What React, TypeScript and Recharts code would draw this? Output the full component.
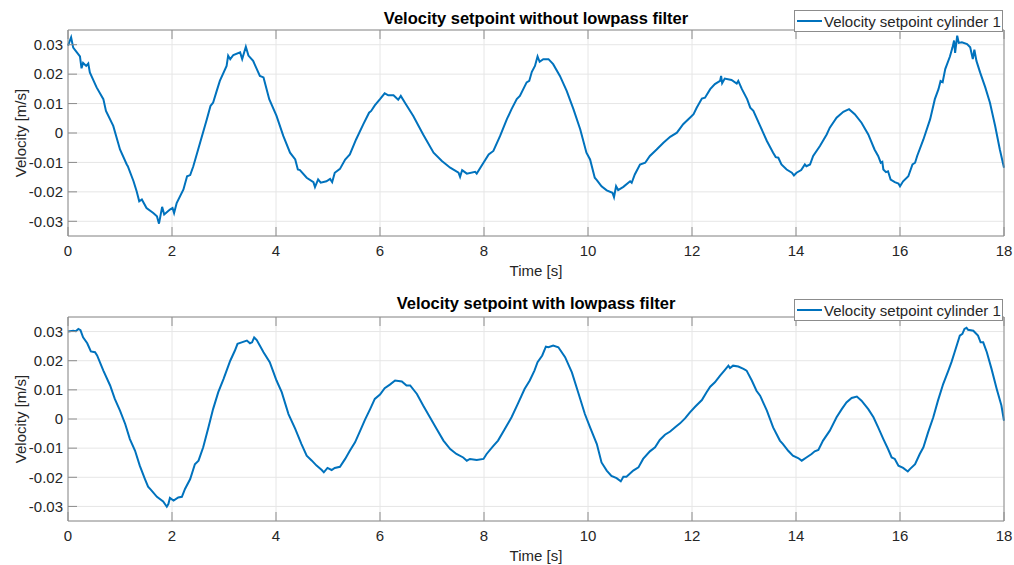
import React from 'react';
import { LineChart, Line, XAxis, YAxis, CartesianGrid } from 'recharts';

const xTicks = [0, 2, 4, 6, 8, 10, 12, 14, 16, 18];
const yTicks = [-0.03, -0.02, -0.01, 0, 0.01, 0.02, 0.03];
const titles = ['Velocity setpoint without lowpass filter', 'Velocity setpoint with lowpass filter'];
const legendLabel = 'Velocity setpoint cylinder 1';
const xLabel = 'Time [s]';
const yLabel = 'Velocity [m/s]';

const rawTime = [0,0.06,0.1,0.23,0.26,0.29,0.35,0.39,0.42,0.55,0.68,0.73,0.87,1.0,1.13,1.15,1.26,1.32,1.37,1.42,1.51,1.64,1.71,1.75,1.81,1.85,1.96,2.01,2.04,2.09,2.22,2.29,2.35,2.41,2.54,2.67,2.74,2.79,2.86,2.92,3.05,3.08,3.12,3.18,3.31,3.35,3.42,3.47,3.56,3.69,3.76,3.87,4.01,4.14,4.27,4.37,4.42,4.46,4.59,4.72,4.75,4.81,4.86,4.97,5.04,5.08,5.13,5.23,5.33,5.42,5.54,5.68,5.79,5.83,5.9,6.0,6.09,6.16,6.26,6.35,6.4,6.48,6.64,6.83,7.03,7.19,7.35,7.51,7.54,7.58,7.67,7.83,7.86,7.99,8.09,8.18,8.31,8.44,8.53,8.63,8.69,8.82,8.87,8.92,8.98,9.03,9.07,9.14,9.24,9.33,9.46,9.59,9.72,9.85,9.97,10.04,10.13,10.17,10.26,10.36,10.47,10.5,10.54,10.58,10.68,10.81,10.84,10.9,11.0,11.1,11.19,11.32,11.45,11.58,11.71,11.83,11.96,12.03,12.09,12.19,12.25,12.35,12.44,12.54,12.56,12.58,12.63,12.76,12.86,12.89,12.96,13.06,13.12,13.18,13.31,13.44,13.56,13.61,13.66,13.72,13.82,13.92,13.96,14.01,14.1,14.17,14.2,14.27,14.33,14.46,14.59,14.65,14.78,14.91,15.02,15.13,15.26,15.39,15.51,15.58,15.63,15.66,15.68,15.73,15.77,15.82,15.9,15.97,16.0,16.06,16.16,16.24,16.29,16.33,16.45,16.58,16.67,16.74,16.78,16.82,16.87,16.96,17.01,17.04,17.06,17.1,17.13,17.19,17.29,17.35,17.4,17.43,17.47,17.54,17.64,17.73,17.83,17.92,18.0];
const rawVelocity = [0.0297,0.0325,0.029,0.026,0.022,0.0238,0.0228,0.0236,0.0206,0.0155,0.0115,0.0075,0.0024,-0.0056,-0.0107,-0.0113,-0.0164,-0.0198,-0.0232,-0.0226,-0.0255,-0.0272,-0.0283,-0.0308,-0.0251,-0.0277,-0.026,-0.0255,-0.0272,-0.0238,-0.0192,-0.0147,-0.0143,-0.0113,-0.0033,0.0047,0.0092,0.0103,0.0143,0.0177,0.0228,0.0263,0.0251,0.0265,0.0274,0.0251,0.0293,0.0263,0.0245,0.0194,0.0189,0.0115,0.0058,-0.001,-0.0067,-0.009,-0.0124,-0.0126,-0.0152,-0.0167,-0.0184,-0.0158,-0.0169,-0.0164,-0.0156,-0.0167,-0.0135,-0.0122,-0.009,-0.0073,-0.0022,0.003,0.0069,0.0075,0.0094,0.0115,0.0135,0.0128,0.0128,0.0113,0.0126,0.0103,0.0058,-0.0005,-0.0067,-0.0095,-0.0118,-0.0135,-0.0149,-0.0126,-0.0138,-0.0132,-0.0138,-0.0101,-0.0073,-0.0061,-0.001,0.0047,0.0081,0.0115,0.0126,0.0172,0.0177,0.0208,0.0228,0.026,0.0242,0.0251,0.0251,0.0234,0.0194,0.0143,0.0081,0.0013,-0.0067,-0.009,-0.0152,-0.016,-0.0181,-0.0195,-0.0203,-0.0218,-0.0181,-0.0194,-0.0183,-0.0164,-0.0169,-0.0141,-0.0107,-0.0101,-0.0078,-0.0056,-0.0033,-0.0013,0.0001,0.003,0.0052,0.0064,0.0086,0.0117,0.012,0.0149,0.0166,0.0177,0.0194,0.0169,0.0185,0.018,0.0168,0.0177,0.0149,0.0115,0.0086,0.0075,0.0024,-0.0027,-0.0067,-0.0082,-0.0084,-0.0107,-0.0124,-0.0135,-0.0144,-0.0135,-0.0126,-0.0107,-0.0113,-0.0107,-0.0078,-0.0044,-0.0005,0.0018,0.0052,0.0072,0.0081,0.0064,0.0035,-0.0005,-0.0056,-0.0078,-0.0101,-0.0098,-0.0124,-0.0133,-0.013,-0.0158,-0.0167,-0.0172,-0.0181,-0.0164,-0.0147,-0.0107,-0.0101,-0.0078,-0.0022,0.0047,0.0115,0.0149,0.0177,0.0173,0.0217,0.026,0.0291,0.0314,0.0272,0.0331,0.0306,0.0308,0.0302,0.0291,0.0251,0.0283,0.0245,0.0206,0.0155,0.0103,0.0024,-0.0056,-0.0118];

const filteredTime = [0,0.1,0.15,0.2,0.24,0.29,0.37,0.44,0.52,0.56,0.68,0.81,0.9,1.0,1.1,1.19,1.29,1.38,1.48,1.54,1.6,1.71,1.83,1.9,1.93,1.96,2.03,2.12,2.19,2.25,2.35,2.44,2.51,2.6,2.7,2.79,2.89,2.99,3.12,3.21,3.26,3.34,3.44,3.5,3.54,3.58,3.63,3.76,3.88,4.01,4.11,4.24,4.37,4.49,4.59,4.69,4.78,4.88,4.92,4.99,5.07,5.13,5.23,5.33,5.42,5.52,5.62,5.71,5.81,5.9,6.0,6.09,6.19,6.29,6.42,6.51,6.58,6.71,6.83,6.96,7.09,7.22,7.35,7.47,7.6,7.67,7.73,7.86,7.99,8.05,8.18,8.27,8.4,8.53,8.65,8.78,8.88,8.97,9.03,9.12,9.19,9.24,9.33,9.43,9.56,9.69,9.81,9.94,10.04,10.17,10.26,10.36,10.45,10.55,10.63,10.68,10.74,10.87,10.97,11.06,11.19,11.29,11.38,11.48,11.58,11.67,11.77,11.87,11.96,12.06,12.19,12.28,12.35,12.44,12.54,12.63,12.7,12.73,12.79,12.89,12.99,13.05,13.15,13.24,13.31,13.44,13.56,13.69,13.75,13.85,13.94,14.04,14.11,14.2,14.3,14.36,14.43,14.52,14.65,14.78,14.88,14.97,15.07,15.17,15.26,15.39,15.49,15.58,15.68,15.77,15.84,15.9,15.97,16.06,16.15,16.19,16.29,16.38,16.45,16.54,16.64,16.73,16.83,16.93,16.99,17.05,17.15,17.2,17.24,17.28,17.31,17.41,17.5,17.55,17.6,17.67,17.76,17.86,17.95,18.0];
const filteredVelocity = [0.03,0.0303,0.0301,0.0309,0.0305,0.028,0.026,0.0232,0.0229,0.0218,0.0166,0.0115,0.0069,0.0029,-0.0017,-0.0069,-0.0109,-0.016,-0.0206,-0.0232,-0.0244,-0.0267,-0.0283,-0.0301,-0.0292,-0.0271,-0.028,-0.0269,-0.0267,-0.024,-0.0206,-0.0155,-0.0143,-0.0097,-0.0029,0.0034,0.0092,0.0137,0.02,0.0235,0.0258,0.0263,0.0269,0.026,0.0263,0.028,0.0271,0.0229,0.0195,0.0132,0.0092,0.0017,-0.0034,-0.0086,-0.0126,-0.0143,-0.016,-0.0175,-0.0183,-0.0168,-0.0175,-0.0168,-0.0164,-0.0137,-0.0109,-0.008,-0.004,-0.0003,0.0034,0.0069,0.0084,0.0106,0.0118,0.0132,0.0129,0.0115,0.0115,0.0086,0.0046,0.0006,-0.0034,-0.0074,-0.0103,-0.012,-0.0132,-0.0143,-0.0137,-0.0141,-0.0137,-0.012,-0.0092,-0.0074,-0.0034,0.0006,0.0052,0.0103,0.0132,0.0166,0.0195,0.0218,0.0248,0.0246,0.0252,0.0246,0.0212,0.016,0.0092,0.0017,-0.0029,-0.0086,-0.0149,-0.0177,-0.0195,-0.0203,-0.0214,-0.0198,-0.0198,-0.0177,-0.0166,-0.0137,-0.0111,-0.0097,-0.0072,-0.0054,-0.0043,-0.0029,-0.0015,0.0003,0.0023,0.0042,0.0065,0.0092,0.0111,0.0126,0.0149,0.0168,0.0183,0.0175,0.0183,0.018,0.0172,0.0166,0.0132,0.0097,0.008,0.0029,-0.0029,-0.0074,-0.0086,-0.0109,-0.0126,-0.0134,-0.0143,-0.0132,-0.012,-0.0111,-0.0106,-0.0074,-0.004,0.0006,0.0034,0.0057,0.0072,0.0077,0.0063,0.0034,0.0006,-0.0029,-0.0069,-0.0103,-0.0132,-0.0137,-0.016,-0.0168,-0.018,-0.0172,-0.0155,-0.012,-0.0097,-0.0046,0.0006,0.0063,0.012,0.0166,0.0195,0.0229,0.0286,0.0292,0.0309,0.0313,0.0306,0.0303,0.0286,0.0263,0.0263,0.0229,0.0172,0.0103,0.0046,-0.0006];

const FONT = '"Liberation Sans", Arial, Helvetica, sans-serif';
const TEXT = '#262626';
const AXIS = '#8c8c8c';
const GRID = '#e6e6e6';
const BLUE = '#0072BD';

const fmtY = (v: number) => (Math.abs(v) < 1e-9 ? '0' : v.toFixed(2));

type PanelProps = {
  title: string;
  time: number[];
  vel: number[];
  top: number;
  height: number;
  marginTop: number;
  marginBottom: number;
  titleY: number;
  legendY: number;
};

function Panel({ title, time, vel, top, height, marginTop, marginBottom, titleY, legendY }: PanelProps) {
  const data = time.map((t, i) => ({ t, v: vel[i] }));
  const tickStyle = { fill: TEXT, fontSize: 15, fontFamily: FONT };
  return (
    <div style={{ position: 'absolute', left: 0, top, width: 1014, height }}>
      <LineChart
        width={1014}
        height={height}
        data={data}
        margin={{ top: marginTop, right: 9, bottom: marginBottom, left: 8 }}
      >
        <CartesianGrid stroke={GRID} strokeWidth={1} />
        <XAxis
          dataKey="t"
          type="number"
          domain={[0, 18]}
          ticks={xTicks}
          interval={0}
          height={30}
          stroke={AXIS}
          tickSize={-9}
          tickMargin={18}
          tick={tickStyle}
          label={{
            content: (p: any) => {
              const vb = p.viewBox;
              return (
                <text
                  x={vb.x + vb.width / 2}
                  y={vb.y + 34}
                  textAnchor="middle"
                  dominantBaseline="central"
                  fill={TEXT}
                  fontSize={15}
                  fontFamily={FONT}
                >
                  {xLabel}
                </text>
              );
            },
          }}
        />
        <XAxis
          xAxisId="top"
          orientation="top"
          dataKey="t"
          type="number"
          domain={[0, 18]}
          ticks={xTicks}
          interval={0}
          height={1}
          stroke={AXIS}
          tickSize={-9}
          tickFormatter={() => ''}
        />
        <YAxis
          type="number"
          domain={[-0.035, 0.035]}
          ticks={yTicks}
          interval={0}
          width={60}
          stroke={AXIS}
          tickSize={-9}
          tickMargin={14}
          tick={tickStyle}
          tickFormatter={fmtY}
          label={{
            content: (p: any) => {
              const vb = p.viewBox;
              const cy = vb.y + vb.height / 2;
              return (
                <text
                  x={20}
                  y={cy}
                  transform={`rotate(-90, 20, ${cy})`}
                  textAnchor="middle"
                  dominantBaseline="central"
                  fill={TEXT}
                  fontSize={15}
                  fontFamily={FONT}
                >
                  {yLabel}
                </text>
              );
            },
          }}
        />
        <YAxis
          yAxisId="right"
          orientation="right"
          type="number"
          domain={[-0.035, 0.035]}
          ticks={yTicks}
          interval={0}
          width={1}
          stroke={AXIS}
          tickSize={-9}
          tickFormatter={() => ''}
        />
        <Line
          type="linear"
          dataKey="v"
          stroke={BLUE}
          strokeWidth={2}
          dot={false}
          isAnimationActive={false}
        />
      </LineChart>
      <div
        style={{
          position: 'absolute',
          left: 68,
          top: titleY - 10,
          width: 936,
          height: 20,
          lineHeight: '20px',
          textAlign: 'center',
          fontFamily: FONT,
          fontWeight: 'bold',
          fontSize: 16.5,
          color: '#000',
          whiteSpace: 'nowrap',
        }}
      >
        {title}
      </div>
      <div
        style={{
          position: 'absolute',
          left: 794,
          top: legendY,
          width: 207,
          height: 20,
          border: `1px solid ${AXIS}`,
          background: '#fff',
          fontFamily: FONT,
          fontSize: 15,
          color: TEXT,
          display: 'flex',
          alignItems: 'center',
          whiteSpace: 'nowrap',
        }}
      >
        <div style={{ width: 25, height: 2, background: BLUE, marginLeft: 2, marginRight: 2 }} />
        <span>{legendLabel}</span>
      </div>
    </div>
  );
}

export default function App() {
  return (
    <div style={{ position: 'absolute', left: 0, top: 0, width: 1014, height: 565, background: '#fff' }}>
      <Panel
        title={titles[0]}
        time={rawTime}
        vel={rawVelocity}
        top={0}
        height={283}
        marginTop={29}
        marginBottom={17}
        titleY={18}
        legendY={10}
      />
      <Panel
        title={titles[1]}
        time={filteredTime}
        vel={filteredVelocity}
        top={283}
        height={282}
        marginTop={33}
        marginBottom={14}
        titleY={20}
        legendY={16}
      />
    </div>
  );
}
